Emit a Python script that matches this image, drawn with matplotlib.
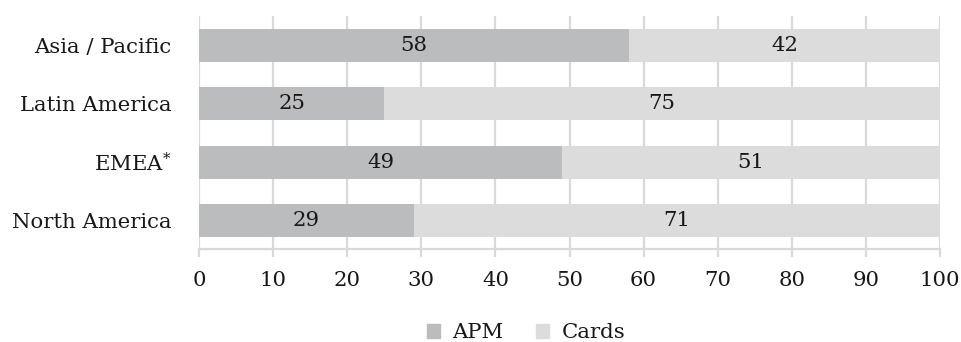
import matplotlib
matplotlib.use("Agg")
import matplotlib.pyplot as plt
from matplotlib.patches import Patch

regions = ["North America", "EMEA$^{*}$", "Latin America", "Asia / Pacific"]
apm = [29, 49, 25, 58]
cards = [71, 51, 75, 42]
series_names = ["APM", "Cards"]
x_ticks = [0, 10, 20, 30, 40, 50, 60, 70, 80, 90, 100]

APM_COLOR = "#bbbcbe"
CARDS_COLOR = "#dcdcdd"
GRID = "#d9d9d9"
TEXT = "#1a1718"
FS = 15.3

plt.rcParams["font.family"] = ["DejaVu Serif"]
plt.rcParams["mathtext.fontset"] = "dejavuserif"

fig = plt.figure(figsize=(9.62, 3.42), dpi=100)
ax = fig.add_axes([199 / 962, 1 - 249 / 342, (940 - 199) / 962, (249 - 16) / 342])

y = range(len(regions))
ax.barh(y, apm, height=0.57, color=APM_COLOR, zorder=2)
ax.barh(y, cards, left=apm, height=0.57, color=CARDS_COLOR, zorder=2)

for i, (a, c) in enumerate(zip(apm, cards)):
    ax.text(a / 2, i, str(a), ha="center", va="center", fontsize=FS, color=TEXT, zorder=3)
    ax.text(a + c / 2, i, str(c), ha="center", va="center", fontsize=FS, color=TEXT, zorder=3)

ax.set_xlim(0, 100)
ax.set_ylim(-0.49, 3.506)
ax.set_xticks(x_ticks)
ax.set_yticks(list(y))
ax.set_yticklabels(regions)

ax.grid(axis="x", color=GRID, lw=1.6, zorder=0)
ax.set_axisbelow(True)
for s in ["top", "right", "left"]:
    ax.spines[s].set_visible(False)
ax.spines["bottom"].set_color(GRID)
ax.spines["bottom"].set_linewidth(1.6)
ax.tick_params(axis="x", length=6, width=1.6, color=GRID, pad=10, labelsize=FS, labelcolor=TEXT)
ax.tick_params(axis="y", length=0, pad=20, labelsize=FS, labelcolor=TEXT)

handles = [Patch(color=APM_COLOR), Patch(color=CARDS_COLOR)]
fig.legend(handles, series_names, loc="center", bbox_to_anchor=(526 / 962, 1 - 333 / 342),
           ncol=2, frameon=False, fontsize=FS, handlelength=0.62, handleheight=0.62,
           handletextpad=0.6, columnspacing=1.5, labelcolor=TEXT)

fig.savefig("out.png", dpi=100)
